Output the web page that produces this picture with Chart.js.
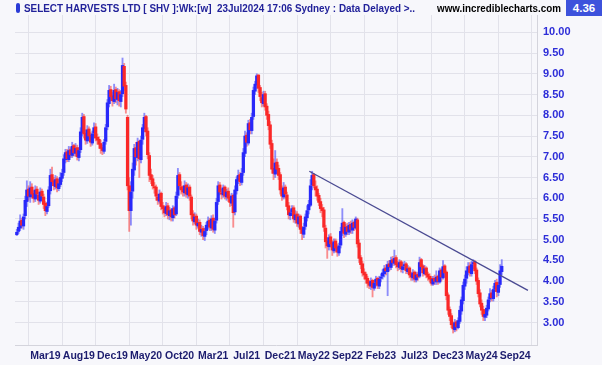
<!DOCTYPE html>
<html><head><meta charset="utf-8">
<script src="https://cdn.jsdelivr.net/npm/chart.js@4"></script>
<style>
html,body{margin:0;padding:0;background:#f7f7fb;}
#wrap{position:relative;width:602px;height:365px;overflow:hidden;background:#f7f7fb;}
canvas{position:absolute;left:0;top:0;}
.hdr{position:absolute;top:1px;font-family:"Liberation Sans",Arial,sans-serif;font-weight:bold;font-size:11.5px;line-height:14px;white-space:nowrap;transform-origin:0 50%;}
</style></head><body>
<div id="wrap">
<canvas id="c" width="602" height="365"></canvas>
<div id="icon" style="position:absolute;left:16px;top:3px;width:4px;height:10px;background:#2a3bd6;border-radius:2px;"></div>
<div class="hdr" id="t1" data-w="391" style="left:24px;color:#22229a;">SELECT HARVESTS LTD [ SHV ]:Wk:[w]&nbsp; 23Jul2024 17:06 Sydney : Data Delayed &gt;..</div>
<div class="hdr" id="t2" data-w="124" style="left:437px;color:#000;">www.incrediblecharts.com</div>
<div class="hdr" id="t3" style="left:566px;top:0;width:36px;height:16px;background:#3d52dc;color:#fff;text-align:center;line-height:16px;">4.36</div>
</div>
<script>
const barOpen = [
5.12,5.20,5.28,5.47,5.33,5.58,5.92,6.22,6.03,6.27,
6.12,5.98,6.22,6.08,5.93,6.17,6.03,5.88,5.68,5.82,
6.18,6.57,6.42,6.28,6.47,6.23,6.33,6.48,6.62,6.93,
7.12,6.93,7.17,7.03,7.27,7.08,7.22,6.98,7.17,7.58,
7.97,7.57,7.38,7.67,7.52,7.33,7.57,7.72,7.47,7.42,
7.32,7.22,7.13,7.37,7.72,8.28,8.62,8.47,8.33,8.62,
8.38,8.57,8.33,8.52,9.18,8.72,7.95,6.30,5.70,6.17,
6.68,7.22,6.98,7.37,6.93,7.42,7.68,7.97,7.62,7.03,
6.57,6.47,6.28,6.27,6.03,5.93,6.12,5.82,5.77,5.63,
5.82,5.58,5.72,5.53,5.77,5.62,6.07,6.57,6.28,6.22,
6.13,6.32,6.08,6.27,6.03,5.62,5.43,5.57,5.33,5.42,
5.18,5.27,5.08,5.22,5.33,5.47,5.28,5.52,5.23,5.47,
5.92,6.32,6.13,6.08,6.27,6.03,6.17,6.02,5.88,6.07,
5.67,6.18,6.43,6.57,6.38,6.62,7.08,7.52,7.33,7.82,
7.63,7.97,8.58,8.73,8.97,8.67,8.43,8.28,8.52,8.22,
8.02,7.77,7.32,6.72,6.58,6.87,6.72,6.57,6.22,6.03,
6.27,6.08,5.82,5.58,5.67,5.77,5.48,5.62,5.38,5.57,
5.27,5.13,5.32,5.53,5.72,5.83,6.32,6.57,6.28,6.22,
6.07,5.92,5.77,5.72,5.28,4.97,4.83,5.07,4.92,4.73,
4.97,4.82,4.68,4.87,5.18,5.42,5.13,5.32,5.18,5.37,
5.23,5.42,5.28,5.48,4.92,4.57,4.42,4.22,4.17,4.07,
3.97,3.88,4.02,3.83,3.97,4.07,3.88,4.07,4.12,4.18,
4.32,4.23,4.42,4.33,4.52,4.43,4.57,4.42,4.33,4.47,
4.28,4.37,4.42,4.23,4.32,4.17,4.08,4.22,4.03,4.17,
4.12,4.52,4.37,4.18,4.32,4.17,4.12,4.07,3.93,4.07,
3.98,4.12,3.98,4.27,4.08,4.37,4.22,3.67,3.32,3.17,
2.97,2.83,3.02,2.88,3.03,3.28,3.53,3.88,4.07,4.23,
4.37,4.18,4.42,4.47,4.27,4.02,3.72,3.47,3.32,3.13,
3.18,3.33,3.57,3.72,3.58,3.82,3.97,3.73,3.92,4.23];
const barHigh = [
5.25,5.40,5.60,5.52,5.62,6.05,6.42,6.30,6.40,6.35,
6.18,6.30,6.28,6.15,6.25,6.22,6.10,5.92,5.90,6.28,
6.70,6.75,6.50,6.55,6.52,6.45,6.62,6.70,7.05,7.18,
7.18,7.25,7.22,7.35,7.30,7.32,7.28,7.22,7.70,8.05,
8.02,7.65,7.75,7.72,7.58,7.62,7.82,7.80,7.55,7.48,
7.40,7.28,7.42,7.78,8.38,8.72,8.70,8.55,8.75,8.68,
8.65,8.62,8.60,9.38,9.25,8.80,8.00,6.50,6.40,6.85,
7.30,7.35,7.45,7.40,7.50,7.78,8.05,8.00,7.70,7.10,
6.70,6.55,6.38,6.32,6.10,6.20,6.15,5.90,5.82,5.90,
5.88,5.78,5.75,5.82,5.80,6.15,6.72,6.62,6.40,6.30,
6.42,6.38,6.35,6.32,6.08,5.70,5.65,5.62,5.50,5.48,
5.35,5.32,5.28,5.42,5.55,5.52,5.58,5.60,5.52,6.00,
6.40,6.38,6.22,6.32,6.30,6.22,6.25,6.08,6.12,6.10,
6.30,6.52,6.68,6.62,6.72,7.20,7.62,7.58,7.88,7.90,
8.05,8.68,8.82,9.00,8.98,8.72,8.55,8.58,8.58,8.28,
8.10,7.85,7.40,6.95,7.15,6.95,6.80,6.62,6.30,6.38,
6.32,6.15,5.90,5.72,5.82,5.82,5.70,5.68,5.62,5.60,
5.32,5.40,5.62,5.82,5.95,6.45,6.65,6.60,6.42,6.30,
6.12,6.00,5.85,5.78,5.35,5.05,5.12,5.15,4.98,5.02,
5.02,4.90,4.92,5.30,5.75,5.45,5.38,5.40,5.42,5.45,
5.48,5.45,5.55,5.52,5.00,4.62,4.48,4.30,4.22,4.12,
4.02,4.08,4.05,4.02,4.12,4.10,4.12,4.18,4.28,4.38,
4.40,4.48,4.50,4.58,4.60,4.75,4.62,4.48,4.52,4.50,
4.45,4.48,4.45,4.38,4.35,4.22,4.28,4.25,4.22,4.22,
4.58,4.55,4.40,4.38,4.35,4.22,4.18,4.12,4.12,4.15,
4.25,4.15,4.32,4.30,4.50,4.40,4.25,3.72,3.38,3.22,
3.02,3.08,3.05,3.12,3.40,3.62,3.98,4.15,4.35,4.45,
4.45,4.48,4.52,4.50,4.32,4.08,3.80,3.55,3.40,3.30,
3.42,3.62,3.82,3.78,3.88,4.02,4.05,3.98,4.40,4.52];
const barLow = [
5.10,5.15,5.22,5.28,5.25,5.50,5.80,5.95,5.90,6.00,
5.90,5.92,6.00,5.85,5.88,5.98,5.75,5.58,5.62,5.78,
6.10,6.35,6.20,6.22,6.15,6.18,6.28,6.40,6.55,6.85,
6.88,6.88,6.98,6.98,7.02,7.02,6.92,6.90,7.10,7.50,
7.45,7.30,7.32,7.42,7.25,7.28,7.50,7.38,7.30,7.20,
7.08,7.05,7.08,7.30,7.65,8.20,8.35,8.22,8.28,8.30,
8.25,8.22,8.20,8.45,8.60,8.05,6.20,5.20,5.35,6.00,
6.55,6.80,6.90,6.50,6.85,7.30,7.60,7.50,6.95,6.40,
6.35,6.22,6.12,5.95,5.85,5.88,5.72,5.62,5.55,5.58,
5.50,5.48,5.45,5.45,5.52,5.58,6.00,6.22,6.10,6.05,
6.05,6.02,6.00,5.95,5.50,5.35,5.38,5.25,5.28,5.12,
5.08,5.00,4.98,5.12,5.25,5.22,5.22,5.18,5.15,5.40,
5.85,6.08,5.98,6.02,5.98,5.95,5.92,5.80,5.82,5.30,
5.60,6.10,6.35,6.30,6.32,6.55,7.00,7.25,7.28,7.55,
7.55,7.90,8.50,8.65,8.55,8.35,8.20,8.22,8.12,7.90,
7.65,7.20,6.60,6.45,6.50,6.60,6.45,6.10,5.95,5.98,
6.00,5.72,5.50,5.48,5.58,5.42,5.40,5.32,5.30,5.15,
5.00,5.05,5.25,5.45,5.62,5.80,6.20,6.25,6.05,5.95,
5.82,5.65,5.55,5.20,4.80,4.55,4.75,4.82,4.62,4.68,
4.70,4.60,4.62,4.80,5.10,5.05,5.08,5.12,5.12,5.15,
5.15,5.22,5.25,4.82,4.45,4.30,4.12,4.05,3.95,3.85,
3.82,3.80,3.62,3.78,3.88,3.82,3.82,3.98,4.05,4.10,
4.15,3.65,4.25,4.28,4.38,4.38,4.32,4.25,4.28,4.22,
4.20,4.28,4.18,4.18,4.08,4.02,4.02,3.98,3.98,4.02,
4.08,4.28,4.12,4.15,4.08,4.02,3.98,3.90,3.90,3.92,
3.92,3.92,3.95,4.00,4.05,4.10,3.55,3.20,3.05,2.88,
2.75,2.78,2.80,2.85,2.98,3.20,3.45,3.80,3.95,4.15,
4.12,4.12,4.30,4.18,3.92,3.62,3.38,3.20,3.05,3.05,
3.12,3.28,3.50,3.52,3.52,3.75,3.62,3.65,3.85,4.15];
const barClose = [
5.18,5.30,5.45,5.35,5.55,5.95,6.20,6.05,6.25,6.10,
6.00,6.20,6.10,5.95,6.15,6.05,5.85,5.70,5.80,6.20,
6.55,6.40,6.30,6.45,6.25,6.35,6.50,6.60,6.95,7.10,
6.95,7.15,7.05,7.25,7.10,7.20,7.00,7.15,7.60,7.95,
7.55,7.40,7.65,7.50,7.35,7.55,7.70,7.45,7.40,7.30,
7.20,7.15,7.35,7.70,8.30,8.60,8.45,8.35,8.60,8.40,
8.55,8.35,8.50,9.20,8.70,8.15,6.30,5.70,6.15,6.70,
7.20,7.00,7.35,6.95,7.40,7.70,7.95,7.60,7.05,6.55,
6.45,6.30,6.25,6.05,5.95,6.10,5.80,5.75,5.65,5.80,
5.60,5.70,5.55,5.75,5.60,6.05,6.55,6.30,6.20,6.15,
6.30,6.10,6.25,6.05,5.60,5.45,5.55,5.35,5.40,5.20,
5.25,5.10,5.20,5.35,5.45,5.30,5.50,5.25,5.45,5.90,
6.30,6.15,6.10,6.25,6.05,6.15,6.00,5.90,6.05,5.65,
6.20,6.45,6.55,6.40,6.60,7.10,7.50,7.35,7.80,7.65,
7.95,8.60,8.75,8.95,8.65,8.45,8.30,8.50,8.20,8.00,
7.75,7.30,6.70,6.60,6.85,6.70,6.55,6.20,6.05,6.25,
6.10,5.80,5.60,5.65,5.75,5.50,5.60,5.40,5.55,5.25,
5.15,5.30,5.55,5.70,5.85,6.30,6.55,6.30,6.20,6.05,
5.90,5.75,5.70,5.30,4.95,4.85,5.05,4.90,4.75,4.95,
4.80,4.70,4.85,5.20,5.40,5.15,5.30,5.20,5.35,5.25,
5.40,5.30,5.50,4.90,4.55,4.40,4.20,4.15,4.05,3.95,
3.90,4.00,3.85,3.95,4.05,3.90,4.05,4.10,4.20,4.30,
4.25,4.40,4.35,4.50,4.45,4.55,4.40,4.35,4.45,4.30,
4.35,4.40,4.25,4.30,4.15,4.10,4.20,4.05,4.15,4.10,
4.45,4.35,4.20,4.30,4.15,4.10,4.05,3.95,4.05,4.00,
4.10,4.00,4.25,4.10,4.35,4.20,3.65,3.30,3.15,2.95,
2.85,3.00,2.90,3.05,3.30,3.55,3.90,4.05,4.25,4.35,
4.20,4.40,4.45,4.25,4.00,3.70,3.45,3.30,3.15,3.20,
3.35,3.55,3.70,3.60,3.80,3.95,3.75,3.90,4.25,4.36];

const xTickLabels = ["Mar19","Aug19","Dec19","May20","Oct20","Mar21","Jul21","Dec21","May22","Sep22","Feb23","Jul23","Dec23","May24","Sep24"];
const xTickWeeks = [17,37,57,77,97,117,137,157,177,197,217,237,257,277,297];
const yTickValues = [3,3.5,4,4.5,5,5.5,6,6.5,7,7.5,8,8.5,9,9.5,10];
const trendWeeks = [174.3, 304.6];
const trendPrices = [6.65, 3.78];

// fit header texts to the widths seen in the reference
document.querySelectorAll('.hdr[data-w]').forEach(el => {
  const w = el.getBoundingClientRect().width;
  el.style.transform = 'scaleX(' + (Number(el.dataset.w) / w) + ')';
});

const UP = 'rgb(40,40,250)', DOWN = 'rgb(250,40,40)';
const UPW = 'rgba(70,70,250,0.6)', DOWNW = 'rgba(250,70,70,0.6)';
const isUp = i => barClose[i] >= barOpen[i];

const wickData = barHigh.map((h, i) => ({x: i, y: [barLow[i], h]}));
const bodyData = barOpen.map((o, i) => ({x: i, y: [Math.min(o, barClose[i]), Math.max(o, barClose[i])]}));
const trendData = trendWeeks.map((w, i) => ({x: w, y: trendPrices[i]}));

const gridCol = '#e2e2ea';
new Chart(document.getElementById('c'), {
  type: 'bar',
  data: {
    datasets: [
      {type: 'line', data: trendData, borderColor: '#4a4a92', borderWidth: 1.3, pointRadius: 0, fill: false, order: 0},
      {data: wickData, barThickness: 1.2, grouped: false, backgroundColor: c => isUp(c.dataIndex) ? UPW : DOWNW, borderWidth: 0, order: 2},
      {data: bodyData, barThickness: 2.6, minBarLength: 1, grouped: false, backgroundColor: c => isUp(c.dataIndex) ? UP : DOWN, borderWidth: 0, order: 1}
    ]
  },
  options: {
    responsive: false, animation: false,
    layout: {padding: {left: 15, top: 15, right: 0, bottom: 0}},
    plugins: {legend: {display: false}, tooltip: {enabled: false}},
    scales: {
      x: {
        type: 'linear', min: -1.07, max: 310, offset: false,
        afterBuildTicks: s => { s.ticks = xTickWeeks.map(v => ({value: v})); },
        afterFit: s => { s.height = 20; },
        grid: {color: gridCol, drawTicks: false},
        border: {display: true, color: '#d4d4dc'},
        ticks: {autoSkip: false, maxRotation: 0, padding: 5, color: '#1c1c6e',
          font: {family: '"Liberation Sans", Arial', weight: 'bold', size: 10.5},
          callback: (v) => { const k = xTickWeeks.indexOf(v); return k >= 0 ? xTickLabels[k] : ''; }}
      },
      y: {
        position: 'right', min: 2.462, max: 10.417,
        afterBuildTicks: s => { s.ticks = yTickValues.map(v => ({value: v})); },
        afterFit: s => { s.width = 65; },
        grid: {color: gridCol, drawTicks: false},
        border: {display: true, color: '#d4d4dc'},
        ticks: {padding: 6, color: '#2d2dd8',
          font: {family: '"Liberation Sans", Arial', weight: 'bold', size: 11},
          callback: v => Number(v).toFixed(2)}
      }
    }
  }
});
</script>
</body></html>
